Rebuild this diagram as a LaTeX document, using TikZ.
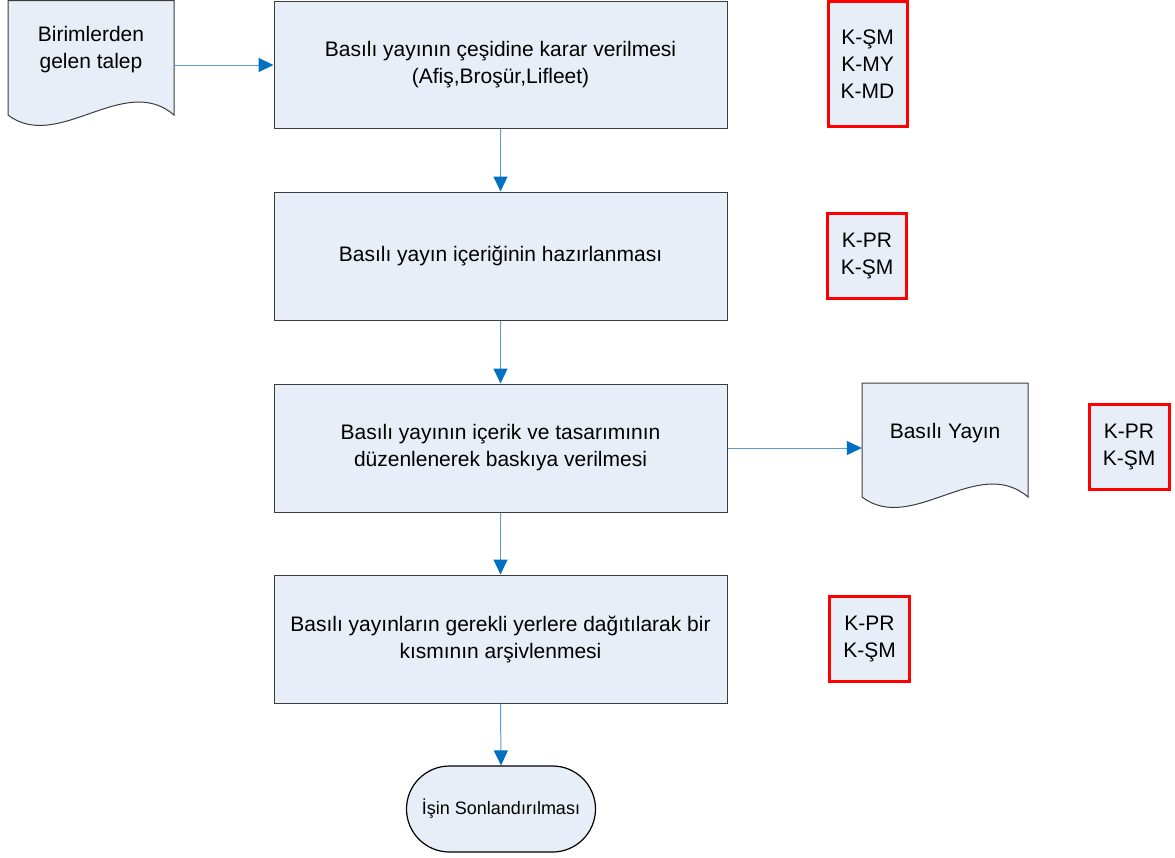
\documentclass[tikz,border=0pt]{standalone}
\usepackage{fontspec}
\setmainfont{Liberation Sans}
\usetikzlibrary{arrows.meta,calc}
\definecolor{boxfill}{RGB}{232,238,247}
\definecolor{edgegray}{RGB}{60,60,60}
\definecolor{lineblue}{RGB}{91,155,213}
\definecolor{headblue}{RGB}{0,112,192}
\definecolor{kred}{RGB}{255,0,0}
\tikzset{
  txt/.style={font=\fontsize{21}{27}\selectfont, align=center},
  procbox/.style={draw=edgegray, line width=1pt, fill=boxfill, minimum width=453pt, minimum height=127pt, inner sep=0pt, txt},
  kbox/.style={draw=kred, line width=3pt, fill=boxfill, minimum width=79pt, minimum height=85pt, inner sep=0pt, txt},
  docshape/.style={draw=edgegray, line width=1pt, fill=boxfill},
  docarea/.style={minimum width=166pt, minimum height=130pt, inner sep=0pt},
  termbox/.style={draw=black, line width=1.2pt, fill=boxfill, minimum width=189pt, minimum height=86pt, rounded corners=43pt, inner sep=0pt},
  conn/.style={draw=lineblue, line width=1pt, -{Triangle[length=15pt,width=14pt,color=headblue]}}
}
\begin{document}
\begin{tikzpicture}[x=1pt,y=-1pt]
\useasboundingbox (0,0) rectangle (1175,857);
% document 1
\draw[docshape] (8,0.5) -- (174,0.5) -- (174,115) .. controls (124,72) and (58,153) .. (8,115) -- cycle;
\node[docarea] (d1) at (91,65) {};
\node[txt] (d1t) at (91,50) {Birimlerden\\gelen talep};
% process boxes
\node[procbox] (b1) at (500.5,64.5) {Basılı yayının çeşidine karar verilmesi\\(Afiş,Broşür,Lifleet)};
\node[procbox, minimum height=128pt] (b2) at (500.5,256) {Basılı yayın içeriğinin hazırlanması};
\node[procbox, minimum height=128pt] (b3) at (500.5,448) {Basılı yayının içerik ve tasarımının\\düzenlenerek baskıya verilmesi};
\node[procbox, minimum height=128pt] (b4) at (500.5,639) {Basılı yayınların gerekli yerlere dağıtılarak bir\\kısmının arşivlenmesi};
% terminal
\node[termbox] (t) at (501,809) {};
\node[font=\fontsize{18}{22}\selectfont] (tt) at (501,809) {İşin Sonlandırılması};
% document 2
\draw[docshape] (862,383) -- (1028,383) -- (1028,497) .. controls (978,454) and (912,535) .. (862,497) -- cycle;
\node[docarea] (d2) at (945,448) {};
\node[txt] (d2t) at (945,433) {Basılı Yayın};
% responsibility boxes
\node[kbox, minimum height=125pt] (k1) at (867.5,64) {K-ŞM\\K-MY\\K-MD};
\node[kbox] (k2) at (867,255.5) {K-PR\\K-ŞM};
\node[kbox, minimum width=80pt] (k3) at (1129,447) {K-PR\\K-ŞM};
\node[kbox, minimum width=80pt] (k4) at (869.5,639) {K-PR\\K-ŞM};
% connectors
\draw[conn] (d1.east) -- (d1.east -| b1.west);
\draw[conn] (b1.south) -- (b2.north);
\draw[conn] (b2.south) -- (b3.north);
\draw[conn] (b3.east) -- (d2.west);
\draw[conn] (b3.south) -- (b4.north);
\draw[conn] (b4.south) -- (t.north);
\end{tikzpicture}
\end{document}
